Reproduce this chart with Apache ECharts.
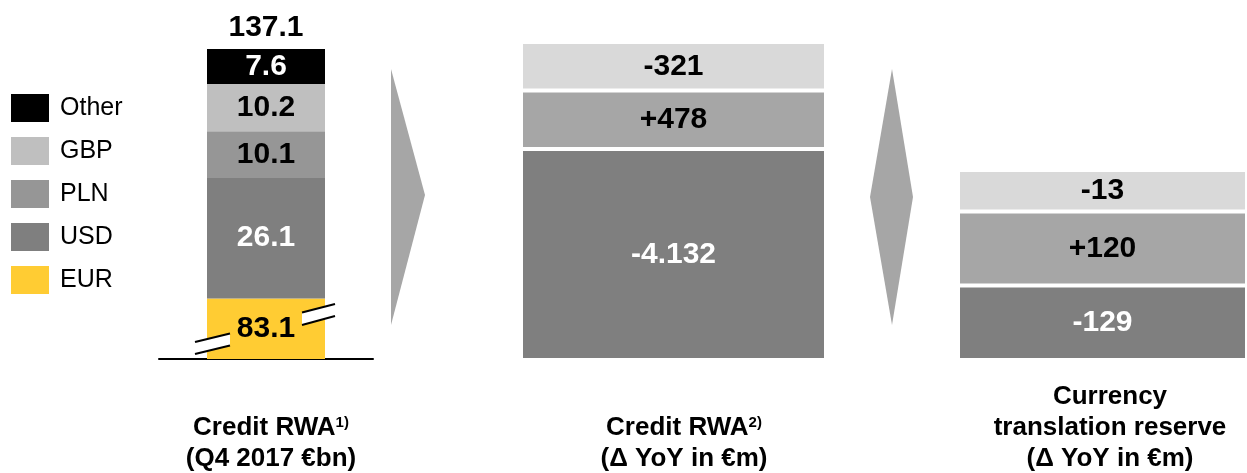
<!DOCTYPE html>
<html>
<head>
<meta charset="utf-8">
<title>Credit RWA by currency</title>
<script src="https://cdn.jsdelivr.net/npm/echarts@6/dist/echarts.min.js"></script>
<style>
    html, body { margin: 0; padding: 0; background: #fff; }
    #main { width: 1247px; height: 473px; }
</style>
</head>
<body>
<div id="main"></div>
<script>
// Credit RWA Q4 2017 (€bn), bottom to top
var currencies = ['EUR', 'USD', 'PLN', 'GBP', 'Other'];
var rwaBn = [83.1, 26.1, 10.1, 10.2, 7.6];
var legendOrder = ['Other', 'GBP', 'PLN', 'USD', 'EUR'];

// Credit RWA, delta YoY (€m), bottom to top
var rwaDelta = [-4132, 478, -321];
// Currency translation reserve, delta YoY (€m), bottom to top
var ctrDelta = [-129, 120, -13];

// the slide draws the delta blocks schematically, not to scale:
// relative block heights as they appear on the slide
var rwaDeltaBlocks = [21.1, 5.85, 4.85];
var ctrDeltaBlocks = [7.45, 7.4, 4.15];

var FONT = 'Arial, "Liberation Sans", sans-serif';

var stackColors = {EUR: '#ffcc33', USD: '#7f7f7f', PLN: '#969696', GBP: '#bfbfbf', Other: '#000000'};
var stackLabelColors = {EUR: '#000', USD: '#fff', PLN: '#000', GBP: '#000', Other: '#fff'};
var deltaColors = ['#7f7f7f', '#a6a6a6', '#d9d9d9'];
var deltaLabelColors = ['#fff', '#000', '#000'];

function fmtDelta(v) {
    var s = Math.abs(v).toString().replace(/\B(?=(\d{3})+(?!\d))/g, '.');
    return (v < 0 ? '-' : '+') + s;
}

var total = 0;
rwaBn.forEach(function (v) { total += v; });
total = Math.round(total * 10) / 10;

var myChart = echarts.init(document.getElementById('main'));

var series = [];

// 左侧堆叠柱
currencies.forEach(function (c, i) {
    series.push({
        name: c,
        type: 'bar',
        stack: 'rwa',
        xAxisIndex: 0,
        yAxisIndex: 0,
        barWidth: 118,
        barGap: '-100%',
        data: [rwaBn[i]],
        itemStyle: {color: stackColors[c]},
        label: {
            show: true,
            position: 'inside',
            formatter: rwaBn[i].toFixed(1),
            color: stackLabelColors[c],
            fontSize: 30,
            fontWeight: 'bold',
            fontFamily: FONT
        },
        silent: true
    });
});

// total on top
series.push({
    name: 'Total',
    type: 'bar',
    xAxisIndex: 0,
    yAxisIndex: 0,
    barWidth: 118,
    barGap: '-100%',
    data: [total],
    itemStyle: {color: 'rgba(0,0,0,0)'},
    label: {
        show: true,
        position: 'top',
        distance: 6,
        formatter: total.toFixed(1),
        color: '#000',
        fontSize: 30,
        fontWeight: 'bold',
        fontFamily: FONT
    },
    z: 1,
    silent: true
});

function deltaSeries(prefix, values, blocks, axisIndex) {
    values.forEach(function (v, i) {
        series.push({
            name: prefix + i,
            type: 'bar',
            stack: prefix,
            xAxisIndex: axisIndex,
            yAxisIndex: axisIndex,
            barWidth: '100%',
            data: [blocks[i]],
            itemStyle: {color: deltaColors[i], borderColor: '#fff', borderWidth: 2},
            label: {
                show: true,
                position: 'inside',
                formatter: fmtDelta(v),
                color: deltaLabelColors[i],
                fontSize: 30,
                fontWeight: 'bold',
                fontFamily: FONT
            },
            silent: true
        });
    });
}
deltaSeries('rwaDelta', rwaDelta, rwaDeltaBlocks, 1);
deltaSeries('ctrDelta', ctrDelta, ctrDeltaBlocks, 2);

var hiddenX = {type: 'category', data: [''], show: false};
var hiddenY = {type: 'value', min: 0, max: 31.8, show: false};

var boldLine = {fontSize: 26, fontWeight: 'bold', fontFamily: FONT, lineHeight: 31, fill: '#000'};
var supText = {fontSize: 15, fontWeight: 'bold', fontFamily: FONT, lineHeight: 31, verticalAlign: 'top', padding: [3, 0, 0, 0], fill: '#000'};

var option = {
    animation: false,
    backgroundColor: '#fff',
    legend: {
        data: legendOrder,
        orient: 'vertical',
        left: 11,
        top: 94,
        padding: 0,
        itemWidth: 38,
        itemHeight: 28,
        itemGap: 15,
        icon: 'rect',
        selectedMode: false,
        textStyle: {fontSize: 25, lineHeight: 28, color: '#000', fontFamily: FONT, padding: [0, 0, 0, 6]}
    },
    grid: [
        {left: 159, top: 49, width: 214, height: 310},
        {left: 521, top: 42, width: 305, height: 318},
        {left: 958, top: 42, width: 290, height: 318}
    ],
    xAxis: [
        {
            type: 'category', gridIndex: 0, data: [''],
            axisLine: {show: true, lineStyle: {color: '#000', width: 2}},
            axisTick: {show: false},
            axisLabel: {show: false}
        },
        Object.assign({gridIndex: 1}, hiddenX),
        Object.assign({gridIndex: 2}, hiddenX)
    ],
    yAxis: [
        {type: 'value', gridIndex: 0, min: 70, max: total, show: false},
        Object.assign({gridIndex: 1}, hiddenY),
        Object.assign({gridIndex: 2}, hiddenY)
    ],
    series: series,
    graphic: [
        // arrow between panels
        {type: 'polygon', shape: {points: [[391, 69], [425, 195], [391, 325]]}, style: {fill: '#a6a6a6'}, silent: true},
        // double arrow
        {type: 'polygon', shape: {points: [[892, 69], [913, 197], [892, 325], [870, 197]]}, style: {fill: '#a6a6a6'}, silent: true},
        // axis break on EUR bar
        {type: 'polygon', shape: {points: [[195, 342], [230, 333.5], [230, 345.5], [195, 354]]}, style: {fill: '#fff'}, z: 100},
        {type: 'line', shape: {x1: 195, y1: 342, x2: 230, y2: 333.5}, style: {stroke: '#000', lineWidth: 2}, z: 101},
        {type: 'line', shape: {x1: 195, y1: 354, x2: 230, y2: 345.5}, style: {stroke: '#000', lineWidth: 2}, z: 101},
        {type: 'polygon', shape: {points: [[302, 312.5], [335, 304], [335, 316], [302, 325]]}, style: {fill: '#fff'}, z: 100},
        {type: 'line', shape: {x1: 302, y1: 312.5, x2: 335, y2: 304}, style: {stroke: '#000', lineWidth: 2}, z: 101},
        {type: 'line', shape: {x1: 302, y1: 325, x2: 335, y2: 316}, style: {stroke: '#000', lineWidth: 2}, z: 101},
        // panel captions
        {
            type: 'text', x: 271, y: 412,
            style: {
                text: '{t|Credit RWA}{s|1)}\n{t|(Q4 2017 €bn)}',
                align: 'center', verticalAlign: 'top',
                rich: {t: boldLine, s: supText}
            }
        },
        {
            type: 'text', x: 684, y: 412,
            style: {
                text: '{t|Credit RWA}{s|2)}\n{t|(Δ YoY in €m)}',
                align: 'center', verticalAlign: 'top',
                rich: {t: boldLine, s: supText}
            }
        },
        {
            type: 'text', x: 1110, y: 381,
            style: {
                text: '{t|Currency}\n{t|translation reserve}\n{t|(Δ YoY in €m)}',
                align: 'center', verticalAlign: 'top',
                rich: {t: boldLine}
            }
        }
    ]
};

myChart.setOption(option);
</script>
</body>
</html>
